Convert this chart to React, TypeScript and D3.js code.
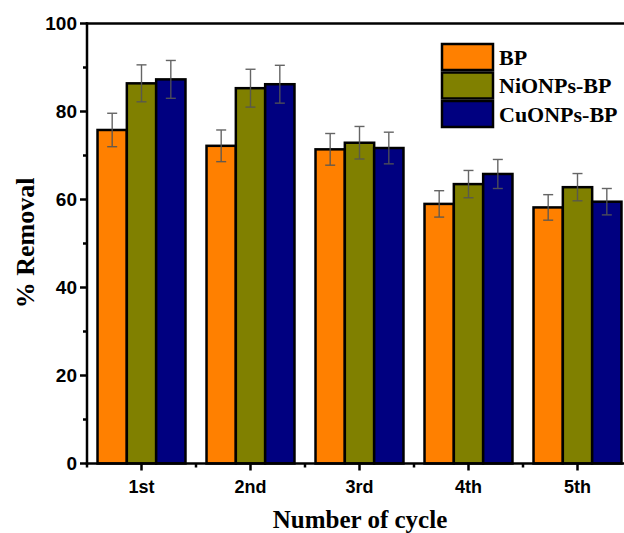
import React from "react";
import * as d3 from "d3";

const cycles = ["1st", "2nd", "3rd", "4th", "5th"];
const seriesNames = ["BP", "NiONPs-BP", "CuONPs-BP"];
const seriesColors = ["#FF8000", "#808000", "#000080"];
const bpValues = [75.8, 72.2, 71.4, 59.0, 58.2];
const bpErrors = [3.8, 3.6, 3.6, 3.0, 2.9];
const niValues = [86.4, 85.3, 72.9, 63.5, 62.8];
const niErrors = [4.2, 4.3, 3.7, 3.1, 3.1];
const cuValues = [87.3, 86.2, 71.7, 65.8, 59.5];
const cuErrors = [4.3, 4.3, 3.6, 3.3, 3.0];
const yMajorTicks = [0, 20, 40, 60, 80, 100];
const yMinorTicks = [10, 30, 50, 70, 90];

const W = 624;
const H = 533;
const left = 87;
const right = 632;
const top = 23.5;
const bottom = 463.5;

export default function App() {
  const x = d3
    .scaleBand<string>()
    .domain(cycles)
    .range([left, right])
    .paddingInner(0.193)
    .paddingOuter(0.0965);
  const xs = d3
    .scaleBand<string>()
    .domain(seriesNames)
    .range([0, x.bandwidth()]);
  const y = d3.scaleLinear().domain([0, 100]).range([bottom, top]);

  const values = [bpValues, niValues, cuValues];
  const errors = [bpErrors, niErrors, cuErrors];
  const step = x.step();
  const boundaries = d3.range(cycles.length + 1).map((i) => left + i * step);

  const sans = "'Liberation Sans', Arial, sans-serif";
  const serif = "'Liberation Serif', 'Times New Roman', serif";

  return (
    <svg
      width={W}
      height={H}
      style={{ position: "absolute", left: 0, top: 0, background: "#fff" }}
    >
      {/* bars */}
      {seriesNames.map((s, si) =>
        cycles.map((c, ci) => {
          const bx = (x(c) as number) + (xs(s) as number);
          const v = values[si][ci];
          return (
            <rect
              key={s + c}
              x={bx}
              y={y(v)}
              width={xs.bandwidth()}
              height={y(0) - y(v)}
              fill={seriesColors[si]}
              stroke="#000"
              strokeWidth={2.5}
            />
          );
        })
      )}
      {/* error bars */}
      {seriesNames.map((s, si) =>
        cycles.map((c, ci) => {
          const cx = (x(c) as number) + (xs(s) as number) + xs.bandwidth() / 2;
          const v = values[si][ci];
          const e = errors[si][ci];
          return (
            <g key={"e" + s + c} stroke="#555" strokeWidth={1.4} opacity={0.9}>
              <line x1={cx} x2={cx} y1={y(v + e)} y2={y(v - e)} />
              <line x1={cx - 5} x2={cx + 5} y1={y(v + e)} y2={y(v + e)} />
              <line x1={cx - 5} x2={cx + 5} y1={y(v - e)} y2={y(v - e)} />
            </g>
          );
        })
      )}
      {/* frame */}
      <g stroke="#000" strokeWidth={2.5} fill="none">
        <line x1={left} x2={left} y1={top - 1.2} y2={bottom + 1.2} />
        <line x1={left - 1.2} x2={right} y1={bottom} y2={bottom} />
        <line x1={left - 1.2} x2={right} y1={top} y2={top} />
        <line x1={right} x2={right} y1={top} y2={bottom} />
      </g>
      {/* y ticks */}
      <g stroke="#000" strokeWidth={2.5}>
        {yMajorTicks.map((t) => (
          <line key={"ym" + t} x1={left - 7} x2={left} y1={y(t)} y2={y(t)} />
        ))}
        {yMinorTicks.map((t) => (
          <line key={"yn" + t} x1={left - 4} x2={left} y1={y(t)} y2={y(t)} />
        ))}
      </g>
      <g fontFamily={sans} fontWeight="bold" fontSize={19} fill="#000">
        {yMajorTicks.map((t) => (
          <text key={"yl" + t} x={left - 10} y={y(t)} dy="0.36em" textAnchor="end">
            {t}
          </text>
        ))}
      </g>
      {/* x ticks */}
      <g stroke="#000" strokeWidth={2.5}>
        {cycles.map((c) => {
          const cx = (x(c) as number) + x.bandwidth() / 2;
          return <line key={"xm" + c} x1={cx} x2={cx} y1={bottom} y2={bottom + 7} />;
        })}
        {boundaries.map((b, i) => (
          <line key={"xn" + i} x1={b} x2={b} y1={bottom} y2={bottom + 4} />
        ))}
      </g>
      <g fontFamily={sans} fontWeight="bold" fontSize={18} fill="#000">
        {cycles.map((c) => (
          <text
            key={"xl" + c}
            x={(x(c) as number) + x.bandwidth() / 2}
            y={493}
            textAnchor="middle"
          >
            {c}
          </text>
        ))}
      </g>
      {/* axis titles */}
      <text
        x={360}
        y={528}
        textAnchor="middle"
        fontFamily={serif}
        fontWeight="bold"
        fontSize={25}
      >
        Number of cycle
      </text>
      <text
        transform="translate(34,243) rotate(-90)"
        textAnchor="middle"
        fontFamily={serif}
        fontWeight="bold"
        fontSize={26}
      >
        % Removal
      </text>
      {/* legend */}
      <g>
        {seriesNames.map((s, i) => (
          <g key={"lg" + s} transform={`translate(442,${44 + i * 28.5})`}>
            <rect
              width={51}
              height={26}
              fill={seriesColors[i]}
              stroke="#000"
              strokeWidth={2.5}
            />
            <text
              x={57}
              y={13}
              dy="0.35em"
              fontFamily={serif}
              fontWeight="bold"
              fontSize={22}
            >
              {s}
            </text>
          </g>
        ))}
      </g>
    </svg>
  );
}
